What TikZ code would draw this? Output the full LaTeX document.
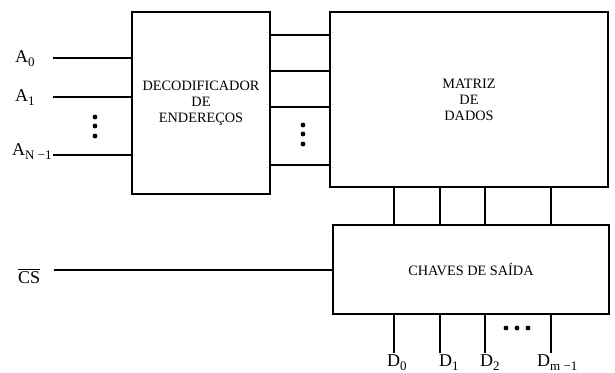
\documentclass[tikz,border=0pt]{standalone}
\usepackage{fontspec}
\setmainfont{Liberation Serif}
\usepackage{tikz}
\usetikzlibrary{positioning,calc}

\newcommand{\lowidx}[1]{\raisebox{-4.5pt}{\fontsize{13}{13}\selectfont #1}}

\begin{document}
\begin{tikzpicture}[x=1pt,y=1pt,
    block/.style={draw, line width=1.5pt, inner sep=0pt, align=center,
        font=\fontsize{14.3}{16}\selectfont},
    wire/.style={line width=2.4pt},
    pin/.style={anchor=base west, inner sep=0pt, font=\fontsize{18}{20}\selectfont},
    dot/.style={fill, circle, inner sep=0pt, minimum size=4.8pt}]
\useasboundingbox (0,0) rectangle (615,-372);

% main blocks
\node[block, minimum width=138, minimum height=182] (dec) at (201,-103) {DECODIFICADOR\\DE\\ENDEREÇOS};
\node[block, minimum width=278, minimum height=175] (mat) at (469,-99.5) {MATRIZ\\DE\\DADOS};
\node[block, minimum width=276, minimum height=89] (chv) at (471,-269.5) {CHAVES DE SAÍDA};

% address inputs
\node[pin] (a0) at (15,-62) {A\lowidx{0}};
\node[pin] (a1) at (15,-101) {A\lowidx{1}};
\node[pin] (an) at (12,-155) {A\lowidx{N −1}};
\coordinate (in0) at (53,-58);
\coordinate (in1) at (53,-97);
\coordinate (inn) at (53,-155);
\foreach \c in {in0,in1,inn}
    \draw[wire] (\c) -- (dec.west |- \c);
\foreach \y in {117,126,136}
    \node[dot] at (95,-\y) {};

% word lines
\foreach \y in {35,71,107,165}
    \draw[wire] (dec.east |- 0,-\y) -- (mat.west |- 0,-\y);
\foreach \y in {125,134,144}
    \node[dot] at (303,-\y) {};

% chip select
\node[pin] (cs) at (18,-283) {$\overline{\mbox{CS}}$};
\coordinate (csin) at (54,-270);
\draw[wire] (csin) -- (chv.west |- csin);

% data lines
\foreach \x in {394,440,485,551} {
    \draw[wire] (mat.south -| \x,0) -- (chv.north -| \x,0);
    \draw[wire] (chv.south -| \x,0) -- (\x,-353);
}
\foreach \x in {506,517,528}
    \node[dot] at (\x,-328) {};
\node[pin] (d0) at (387,-366) {D\lowidx{0}};
\node[pin] (d1) at (439,-366) {D\lowidx{1}};
\node[pin] (d2) at (480,-366) {D\lowidx{2}};
\node[pin] (dm) at (537,-366) {D\lowidx{m −1}};
\end{tikzpicture}
\end{document}
